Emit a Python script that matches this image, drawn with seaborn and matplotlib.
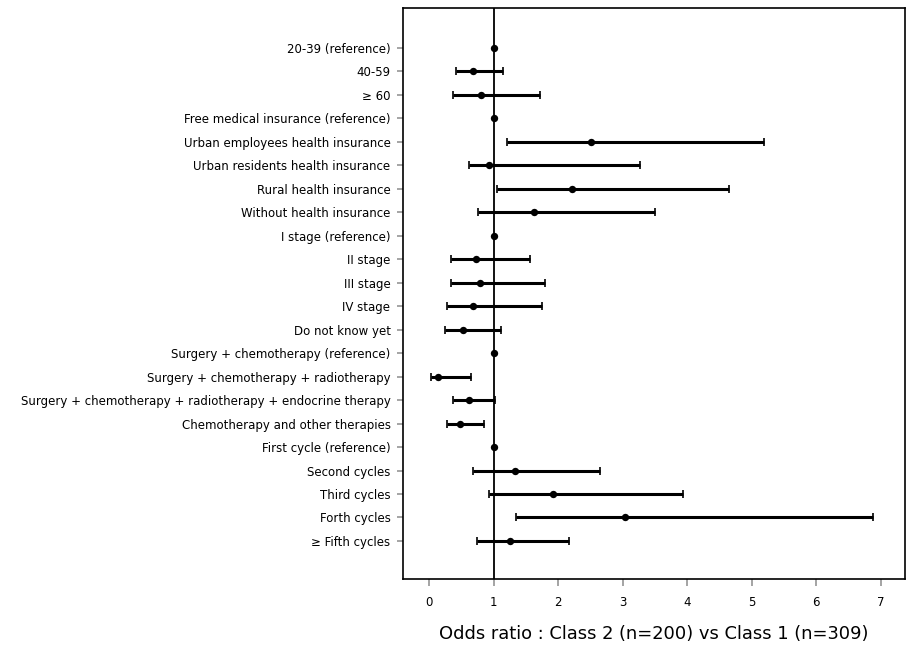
import pandas as pd
import matplotlib
matplotlib.use("Agg")
import matplotlib.pyplot as plt
import seaborn as sns

labels = [
    "20-39 (reference)", "40-59", "\u2265 60",
    "Free medical insurance (reference)", "Urban employees health insurance",
    "Urban residents health insurance", "Rural health insurance",
    "Without health insurance",
    "I stage (reference)", "II stage", "III stage", "IV stage", "Do not know yet",
    "Surgery + chemotherapy (reference)", "Surgery + chemotherapy + radiotherapy",
    "Surgery + chemotherapy + radiotherapy + endocrine therapy",
    "Chemotherapy and other therapies",
    "First cycle (reference)", "Second cycles", "Third cycles", "Forth cycles",
    "\u2265 Fifth cycles",
]
odds = [1.0, 0.68, 0.80, 1.0, 2.50, 0.92, 2.21, 1.62,
        1.0, 0.73, 0.78, 0.68, 0.52,
        1.0, 0.13, 0.62, 0.48,
        1.0, 1.33, 1.91, 3.04, 1.25]
ci_low = [1.0, 0.41, 0.37, 1.0, 1.21, 0.61, 1.05, 0.755,
          1.0, 0.34, 0.34, 0.27, 0.245,
          1.0, 0.03, 0.37, 0.27,
          1.0, 0.67, 0.93, 1.34, 0.735]
ci_high = [1.0, 1.14, 1.72, 1.0, 5.19, 3.26, 4.65, 3.50,
           1.0, 1.56, 1.80, 1.75, 1.11,
           1.0, 0.64, 1.02, 0.84,
           1.0, 2.64, 3.94, 6.89, 2.16]

df = pd.DataFrame({"label": labels, "odds": odds, "lo": ci_low, "hi": ci_high})
df["pos"] = range(len(df))

sns.set_theme(style="ticks")
plt.rcParams["font.family"] = ["DejaVu Sans"]
plt.rcParams["text.color"] = "black"
plt.rcParams["xtick.labelcolor"] = "black"
plt.rcParams["ytick.labelcolor"] = "black"
plt.rcParams["axes.labelcolor"] = "black"

fig = plt.figure(figsize=(9.18, 6.5), dpi=100)
ax = fig.add_axes([403 / 918, 1 - 579 / 650, (905 - 403) / 918, (579 - 8) / 650])

# confidence intervals with caps
has_ci = df["lo"] != df["hi"]
sub = df[has_ci]
ax.errorbar(sub["odds"], sub["pos"],
            xerr=[sub["odds"] - sub["lo"], sub["hi"] - sub["odds"]],
            fmt="none", ecolor="black", elinewidth=2.2, capsize=3, capthick=1.2)

# reference line at OR = 1
ax.axvline(1, color="black", lw=1.3, zorder=1)

sns.scatterplot(data=df, x="odds", y="pos", color="black", s=28,
                edgecolor="black", linewidth=0, ax=ax, zorder=3)

ax.set_xlim(-0.41, 7.38)
ax.set_ylim(len(df) - 1 + 1.62, -1.7)
ax.set_yticks(df["pos"])
ax.set_yticklabels(df["label"], fontsize=8.5)
ax.set_xticks(range(0, 8))
ax.set_xticklabels([str(i) for i in range(0, 8)], fontsize=8.5)
ax.tick_params(axis="y", length=4, color="#999999", pad=5)
ax.tick_params(axis="x", length=5, color="#999999", pad=7)
ax.set_ylabel("")
ax.set_xlabel("Odds ratio : Class 2 (n=200) vs Class 1 (n=309)", fontsize=12.9, labelpad=12)
for side in ["top", "right", "left", "bottom"]:
    ax.spines[side].set_visible(True)
    ax.spines[side].set_color("black")
    ax.spines[side].set_linewidth(1.2)

fig.savefig("out.png", dpi=100)
